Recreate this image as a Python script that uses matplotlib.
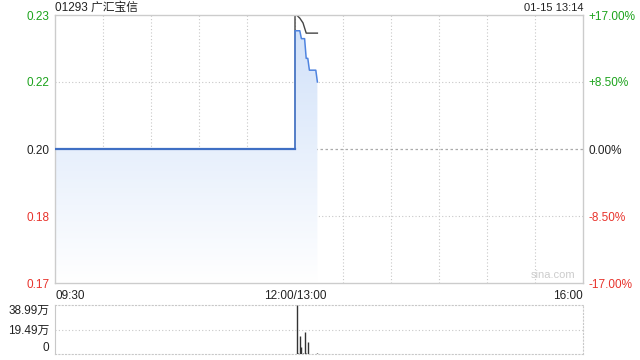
import numpy as np
import matplotlib
matplotlib.use("Agg")
import matplotlib.pyplot as plt
from matplotlib.colors import LinearSegmentedColormap
from matplotlib.patches import Polygon

plt.rcParams['font.family'] = ['Liberation Sans', 'Noto Sans CJK SC', 'DejaVu Sans']

# minutes since 09:30 (lunch break removed: 12:00 and 13:00 are both minute 150)
price_min = [0, 150, 150, 151, 152, 153, 154, 155, 156, 157, 158, 159, 160, 161, 162, 163, 164]
price = [0.200, 0.200, 0.230, 0.230, 0.230, 0.230, 0.228, 0.228, 0.228, 0.223, 0.223,
         0.220, 0.220, 0.220, 0.220, 0.220, 0.217]
avg_min = [150, 150, 151, 153, 155, 157, 164]
avg_price = [0.200, 0.2340, 0.2340, 0.2332, 0.2320, 0.2294, 0.2294]
vol_min = list(range(150, 165))
vol = [0.3, 38.99, 0.5, 14.0, 5.5, 0.4, 17.2, 0.5, 9.4, 0.3, 0.3, 0.2, 0.3, 0.2, 0.8]  # 万

prev_close = 0.20
ylo, yhi = 0.166, 0.234
left_ticks = [0.234, 0.217, 0.2, 0.183, 0.166]
left_labels = ['0.23', '0.22', '0.20', '0.18', '0.17']
right_labels = ['+17.00%', '+8.50%', '0.00%', '-8.50%', '-17.00%']
tick_colors = ['#1ca31c', '#1ca31c', '#222222', '#e8332c', '#e8332c']

grid_c = '#c8c8c8'

fig = plt.figure(figsize=(6.4, 3.6), dpi=100)
ax = fig.add_axes([55/640, 1 - 283/360, 528/640, 268/360])
ax.set_xlim(0, 330)
ax.set_ylim(ylo, yhi)

# gradient fill under the price line
poly_x = [price_min[0]] + price_min + [price_min[-1]]
poly_y = [ylo] + price + [ylo]
poly = Polygon(list(zip(poly_x, poly_y)), closed=True, facecolor='none', edgecolor='none')
ax.add_patch(poly)
cmap = LinearSegmentedColormap.from_list('g', ['#ffffff', '#cfe0f9'])
grad = np.linspace(0, 1, 256).reshape(-1, 1)
img = ax.imshow(grad, cmap=cmap, aspect='auto', origin='lower',
                extent=[0, 330, ylo, yhi], zorder=1)
img.set_clip_path(poly)

# grid
for m in range(30, 330, 30):
    ax.axvline(m, color=grid_c, lw=0.8, ls=(0, (1, 2)), zorder=0.5)
for v in [0.183, 0.217]:
    ax.axhline(v, color=grid_c, lw=0.8, ls=(0, (1, 2)), zorder=0.5)
ax.axhline(prev_close, color='#aaaaaa', lw=0.9, ls=(0, (2, 2)), zorder=0.5)

ax.plot(avg_min, avg_price, color='#444444', lw=1.0, zorder=2.5, clip_on=True)
ax.plot(price_min, price, color='#4f84e0', lw=1.1, zorder=3)
ax.plot(price_min[:2], price[:2], color='#3f6fc4', lw=1.6, zorder=3)

for s in ax.spines.values():
    s.set_color('#cccccc')
    s.set_linewidth(1)

ax.set_yticks(left_ticks)
ax.set_yticklabels(left_labels, fontsize=8.5)
for t, c in zip(ax.get_yticklabels(), tick_colors):
    t.set_color(c)
ax.tick_params(axis='y', length=0, pad=4)
ax.set_xticks([])

axr = ax.twinx()
axr.set_ylim(ylo, yhi)
axr.set_yticks(left_ticks)
axr.set_yticklabels(right_labels, fontsize=8.5)
for t, c in zip(axr.get_yticklabels(), tick_colors):
    t.set_color(c)
axr.tick_params(axis='y', length=0, pad=4)
for s in axr.spines.values():
    s.set_visible(False)

xt = ax.get_xaxis_transform()
ax.text(0, -0.025, '09:30', transform=xt, ha='left', va='top', fontsize=8.5, color='#222222')
ax.text(150, -0.025, '12:00/13:00', transform=xt, ha='center', va='top', fontsize=8.5, color='#222222')
ax.text(330, -0.025, '16:00', transform=xt, ha='right', va='top', fontsize=8.5, color='#222222')
ax.text(0.985, 0.012, 'sina.com', transform=ax.transAxes, ha='right', va='bottom', fontsize=8, color='#cccccc')

fig.text(55/640, 1 - 8/360, '01293 广汇宝信', ha='left', va='center', fontsize=8.5, color='#222222')
fig.text(583/640, 1 - 8/360, '01-15 13:14', ha='right', va='center', fontsize=8, color='#222222')

# volume panel
axv = fig.add_axes([55/640, 1 - 354/360, 528/640, 49/360])
axv.set_xlim(0, 330)
axv.set_ylim(0, 38.99)
axv.vlines(vol_min, 0, vol, color='#333333', lw=1)
axv.axhline(19.49, color=grid_c, lw=0.8, ls=(0, (1, 2)))
for k, s in axv.spines.items():
    s.set_color(grid_c)
    s.set_linewidth(0.8)
    if k != 'left':
        s.set_linestyle((0, (1, 2)))
axv.set_xticks([])
axv.set_yticks([38.99, 19.49, 0])
axv.set_yticklabels(['38.99万', '19.49万', '0'], fontsize=8.5, color='#222222')
vls = axv.get_yticklabels()
vls[0].set_va('top')
vls[2].set_va('bottom')
axv.tick_params(axis='y', length=0, pad=4)

fig.savefig('out.png', dpi=100)
